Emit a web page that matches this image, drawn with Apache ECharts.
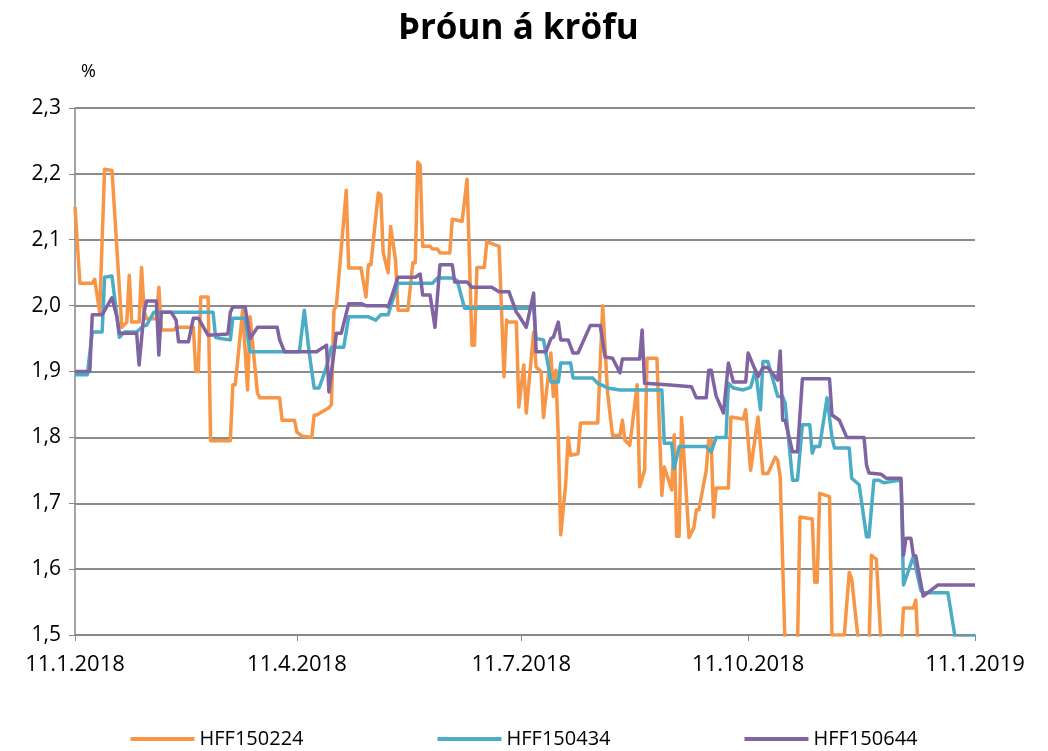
<!DOCTYPE html>
<html>
<head>
<meta charset="utf-8">
<script src="https://cdn.jsdelivr.net/npm/echarts@6/dist/echarts.min.js"></script>
<style>html,body{margin:0;padding:0;background:#fff}#c{width:1048px;height:751px}</style>
</head>
<body>
<div id="c"></div>
<script>
const chartTitle = 'Þróun á kröfu';
const yUnit = '%';
const seriesNames = ['HFF150224', 'HFF150434', 'HFF150644'];
const xTickDates = ['2018-01-11', '2018-04-11', '2018-07-11', '2018-10-11', '2019-01-11'];
const yTicks = [1.5, 1.6, 1.7, 1.8, 1.9, 2.0, 2.1, 2.2, 2.3];

const hff150224 = [
['2018-01-11',2.15],['2018-01-13',2.034],['2018-01-18',2.034],['2018-01-19',2.04],['2018-01-21',1.99],
['2018-01-23',2.207],['2018-01-26',2.205],['2018-01-30',1.967],['2018-02-01',1.975],['2018-02-02',2.046],
['2018-02-03',1.975],['2018-02-06',1.975],['2018-02-07',2.058],['2018-02-08',1.993],['2018-02-09',1.98],
['2018-02-13',1.98],['2018-02-14',2.028],['2018-02-15',1.963],['2018-02-20',1.963],['2018-02-21',1.967],
['2018-02-28',1.967],['2018-03-01',1.90],['2018-03-02',1.90],['2018-03-03',2.013],['2018-03-06',2.013],
['2018-03-07',1.795],['2018-03-15',1.795],['2018-03-16',1.88],['2018-03-17',1.88],['2018-03-20',1.993],
['2018-03-22',1.872],['2018-03-23',1.983],['2018-03-26',1.867],['2018-03-27',1.86],['2018-04-04',1.86],
['2018-04-05',1.826],['2018-04-10',1.826],['2018-04-11',1.808],['2018-04-13',1.802],['2018-04-17',1.80],
['2018-04-18',1.834],['2018-04-19',1.834],['2018-04-24',1.845],['2018-04-25',1.85],['2018-04-26',1.993],
['2018-04-27',2.0],['2018-05-01',2.175],['2018-05-02',2.057],['2018-05-07',2.057],['2018-05-09',2.013],
['2018-05-10',2.062],['2018-05-11',2.062],['2018-05-14',2.171],['2018-05-15',2.168],['2018-05-16',2.08],
['2018-05-18',2.05],['2018-05-19',2.12],['2018-05-21',2.069],['2018-05-22',1.993],['2018-05-26',1.993],
['2018-05-28',2.065],['2018-05-29',2.065],['2018-05-30',2.218],['2018-05-31',2.213],['2018-06-01',2.09],
['2018-06-04',2.09],['2018-06-05',2.086],['2018-06-07',2.086],['2018-06-08',2.08],['2018-06-12',2.08],
['2018-06-13',2.131],['2018-06-17',2.128],['2018-06-19',2.192],['2018-06-21',1.94],['2018-06-22',1.94],
['2018-06-23',2.058],['2018-06-26',2.058],['2018-06-27',2.097],['2018-07-02',2.09],['2018-07-04',1.892],
['2018-07-05',1.978],['2018-07-06',1.975],['2018-07-09',1.975],['2018-07-10',1.846],['2018-07-12',1.91],
['2018-07-13',1.837],['2018-07-16',1.96],['2018-07-17',1.907],['2018-07-19',1.90],['2018-07-20',1.83],
['2018-07-23',1.928],['2018-07-24',1.862],['2018-07-25',1.902],['2018-07-26',1.80],['2018-07-27',1.652],
['2018-07-29',1.73],['2018-07-30',1.80],['2018-07-31',1.773],['2018-08-03',1.775],['2018-08-04',1.822],
['2018-08-11',1.822],['2018-08-13',2.0],['2018-08-15',1.867],['2018-08-17',1.803],['2018-08-20',1.803],
['2018-08-21',1.826],['2018-08-22',1.796],['2018-08-24',1.788],['2018-08-27',1.88],['2018-08-28',1.725],
['2018-08-30',1.75],['2018-08-31',1.92],['2018-09-04',1.92],['2018-09-06',1.712],['2018-09-07',1.755],
['2018-09-10',1.72],['2018-09-11',1.804],['2018-09-12',1.65],['2018-09-13',1.65],['2018-09-14',1.83],
['2018-09-17',1.648],['2018-09-19',1.663],['2018-09-20',1.69],['2018-09-21',1.69],['2018-09-24',1.75],
['2018-09-25',1.796],['2018-09-26',1.796],['2018-09-27',1.679],['2018-09-28',1.723],['2018-10-03',1.723],
['2018-10-04',1.831],['2018-10-09',1.828],['2018-10-10',1.842],['2018-10-12',1.75],['2018-10-15',1.831],
['2018-10-17',1.745],['2018-10-19',1.745],['2018-10-22',1.77],['2018-10-23',1.765],['2018-10-24',1.74],
['2018-10-26',1.48],['2018-10-31',1.48],['2018-11-01',1.679],['2018-11-06',1.676],['2018-11-07',1.58],
['2018-11-08',1.58],['2018-11-09',1.715],['2018-11-13',1.71],['2018-11-14',1.5],['2018-11-19',1.5],
['2018-11-21',1.595],['2018-11-22',1.585],['2018-11-25',1.48],['2018-11-29',1.48],['2018-11-30',1.621],
['2018-12-02',1.615],['2018-12-04',1.48],['2018-12-12',1.48],['2018-12-13',1.541],['2018-12-17',1.541],
['2018-12-18',1.553],['2018-12-19',1.47],['2018-12-28',1.45],['2019-01-11',1.44]
];

const hff150434 = [
['2018-01-11',1.895],['2018-01-16',1.895],['2018-01-18',1.96],['2018-01-22',1.96],['2018-01-23',2.043],
['2018-01-26',2.045],['2018-01-29',1.952],['2018-01-31',1.96],['2018-02-05',1.96],['2018-02-08',1.97],
['2018-02-09',1.97],['2018-02-12',1.99],['2018-03-08',1.99],['2018-03-09',1.952],['2018-03-11',1.95],
['2018-03-15',1.948],['2018-03-16',1.981],['2018-03-21',1.981],['2018-03-23',1.93],['2018-04-12',1.93],
['2018-04-14',1.993],['2018-04-16',1.928],['2018-04-18',1.875],['2018-04-20',1.875],['2018-04-23',1.907],
['2018-04-25',1.937],['2018-04-30',1.937],['2018-05-02',1.983],['2018-05-10',1.983],['2018-05-13',1.978],
['2018-05-15',1.986],['2018-05-18',1.986],['2018-05-22',2.034],['2018-06-05',2.034],['2018-06-07',2.042],
['2018-06-13',2.042],['2018-06-15',2.038],['2018-06-18',1.996],['2018-07-16',1.996],['2018-07-17',1.95],
['2018-07-20',1.948],['2018-07-22',1.907],['2018-07-23',1.884],['2018-07-26',1.884],['2018-07-27',1.913],
['2018-07-31',1.913],['2018-08-01',1.89],['2018-08-09',1.89],['2018-08-11',1.882],['2018-08-13',1.879],
['2018-08-15',1.875],['2018-08-20',1.872],['2018-09-06',1.872],['2018-09-07',1.791],['2018-09-10',1.791],
['2018-09-11',1.753],['2018-09-13',1.786],['2018-09-24',1.786],['2018-09-26',1.778],['2018-09-28',1.80],
['2018-10-02',1.80],['2018-10-03',1.882],['2018-10-05',1.875],['2018-10-09',1.872],['2018-10-12',1.876],
['2018-10-14',1.902],['2018-10-16',1.842],['2018-10-17',1.915],['2018-10-19',1.915],['2018-10-23',1.862],
['2018-10-25',1.862],['2018-10-26',1.852],['2018-10-29',1.735],['2018-10-31',1.735],['2018-11-02',1.819],
['2018-11-05',1.819],['2018-11-06',1.776],['2018-11-07',1.786],['2018-11-09',1.786],['2018-11-12',1.86],
['2018-11-14',1.80],['2018-11-15',1.784],['2018-11-21',1.784],['2018-11-22',1.738],['2018-11-25',1.728],
['2018-11-28',1.649],['2018-11-29',1.649],['2018-12-01',1.735],['2018-12-03',1.735],['2018-12-05',1.731],
['2018-12-11',1.735],['2018-12-12',1.733],['2018-12-13',1.576],['2018-12-17',1.619],['2018-12-20',1.568],
['2018-12-21',1.564],['2018-12-31',1.564],['2019-01-03',1.495],['2019-01-09',1.497],['2019-01-11',1.5]
];

const hff150644 = [
['2018-01-11',1.90],['2018-01-17',1.90],['2018-01-18',1.986],['2018-01-22',1.986],['2018-01-26',2.012],
['2018-01-28',1.983],['2018-01-29',1.958],['2018-02-05',1.958],['2018-02-06',1.91],['2018-02-08',1.99],
['2018-02-09',2.007],['2018-02-13',2.007],['2018-02-14',1.925],['2018-02-15',1.99],['2018-02-19',1.99],
['2018-02-21',1.978],['2018-02-22',1.945],['2018-02-26',1.945],['2018-02-28',1.981],['2018-03-02',1.981],
['2018-03-06',1.955],['2018-03-14',1.957],['2018-03-15',1.99],['2018-03-16',1.998],['2018-03-21',1.998],
['2018-03-23',1.95],['2018-03-26',1.967],['2018-04-03',1.967],['2018-04-04',1.948],['2018-04-06',1.93],
['2018-04-19',1.93],['2018-04-23',1.94],['2018-04-24',1.869],['2018-04-26',1.928],['2018-04-27',1.958],
['2018-04-29',1.958],['2018-05-02',2.003],['2018-05-07',2.003],['2018-05-09',2.0],['2018-05-17',2.0],
['2018-05-18',1.998],['2018-05-22',2.043],['2018-05-29',2.043],['2018-05-31',2.048],['2018-06-01',2.016],
['2018-06-04',2.016],['2018-06-06',1.967],['2018-06-08',2.062],['2018-06-13',2.062],['2018-06-14',2.036],
['2018-06-19',2.036],['2018-06-21',2.028],['2018-06-29',2.028],['2018-07-02',2.021],['2018-07-06',2.021],
['2018-07-09',1.99],['2018-07-10',1.985],['2018-07-13',1.967],['2018-07-16',2.019],['2018-07-17',1.93],
['2018-07-21',1.93],['2018-07-23',1.95],['2018-07-24',1.952],['2018-07-26',1.975],['2018-07-27',1.948],
['2018-07-30',1.948],['2018-08-01',1.928],['2018-08-03',1.928],['2018-08-08',1.97],['2018-08-12',1.97],
['2018-08-14',1.922],['2018-08-17',1.92],['2018-08-20',1.898],['2018-08-21',1.919],['2018-08-28',1.919],
['2018-08-29',1.963],['2018-08-30',1.882],['2018-09-08',1.88],['2018-09-18',1.877],['2018-09-20',1.86],
['2018-09-24',1.86],['2018-09-25',1.902],['2018-09-26',1.902],['2018-09-28',1.863],['2018-10-01',1.837],
['2018-10-03',1.913],['2018-10-05',1.884],['2018-10-10',1.884],['2018-10-11',1.928],['2018-10-15',1.892],
['2018-10-17',1.906],['2018-10-19',1.906],['2018-10-23',1.887],['2018-10-24',1.931],['2018-10-25',1.826],
['2018-10-26',1.826],['2018-10-29',1.778],['2018-10-31',1.778],['2018-11-02',1.889],['2018-11-13',1.889],
['2018-11-14',1.834],['2018-11-17',1.826],['2018-11-20',1.80],['2018-11-27',1.80],['2018-11-28',1.758],
['2018-11-29',1.746],['2018-12-04',1.744],['2018-12-06',1.738],['2018-12-12',1.738],['2018-12-13',1.621],
['2018-12-14',1.647],['2018-12-16',1.647],['2018-12-17',1.621],['2018-12-18',1.62],['2018-12-21',1.559],
['2018-12-27',1.576],['2019-01-11',1.576]
];

const colors = ['#F79646', '#4BACC6', '#8064A2'];
const FONT = "'Open Sans', sans-serif";

function ts(s) { const p = s.split('-').map(Number); return Date.UTC(p[0], p[1] - 1, p[2]); }
const xTickTs = xTickDates.map(ts);
function fmtDate(v) { const d = new Date(v); return d.getUTCDate() + '.' + (d.getUTCMonth() + 1) + '.' + d.getUTCFullYear(); }

const chart = echarts.init(document.getElementById('c'), null, { renderer: 'canvas' });
const dataSets = [hff150224, hff150434, hff150644];
chart.setOption({
  animation: false,
  backgroundColor: '#fff',
  title: {
    text: chartTitle, left: 393, top: 7,
    textStyle: { fontFamily: FONT, fontWeight: 'bold', fontSize: 35, color: '#000' }
  },
  graphic: [{ type: 'text', left: 81, top: 63, style: { text: yUnit, font: "18px " + FONT, fill: '#000' } }],
  legend: {
    bottom: -3, left: 'center', itemGap: 134, itemWidth: 64, itemHeight: 4, icon: 'rect',
    data: seriesNames,
    textStyle: { fontFamily: FONT, fontSize: 20, color: '#000' }
  },
  grid: { left: 75, right: 73, top: 108, bottom: 116, containLabel: false },
  xAxis: {
    type: 'value', min: xTickTs[0], max: xTickTs[xTickTs.length - 1],
    axisLine: { show: true, lineStyle: { color: '#888', width: 1.5 } },
    axisTick: { show: true, customValues: xTickTs, length: 6, lineStyle: { color: '#888' } },
    axisLabel: {
      customValues: xTickTs, showMinLabel: true, showMaxLabel: true, margin: 19, color: '#000', fontFamily: FONT, fontSize: 22,
      formatter: v => fmtDate(v)
    },
    splitLine: { show: false }
  },
  yAxis: {
    type: 'value', min: yTicks[0], max: yTicks[yTicks.length - 1], interval: 0.1,
    axisLine: { show: true, lineStyle: { color: '#888', width: 1.5 } },
    axisTick: { show: true, length: 6, lineStyle: { color: '#888' } },
    axisLabel: { color: '#000', fontFamily: FONT, fontSize: 21, margin: 14,
      formatter: v => v.toFixed(1).replace('.', ',') },
    splitLine: { show: true, lineStyle: { color: '#8c8c8c', width: 2 } }
  },
  series: dataSets.map((d, i) => ({
    name: seriesNames[i], type: 'line', data: d.map(p => [ts(p[0]), p[1]]), showSymbol: false, symbol: 'none',
    clip: true, color: colors[i], lineStyle: { width: 3.5, color: colors[i], join: 'round' }
  }))
});
</script>
</body>
</html>
